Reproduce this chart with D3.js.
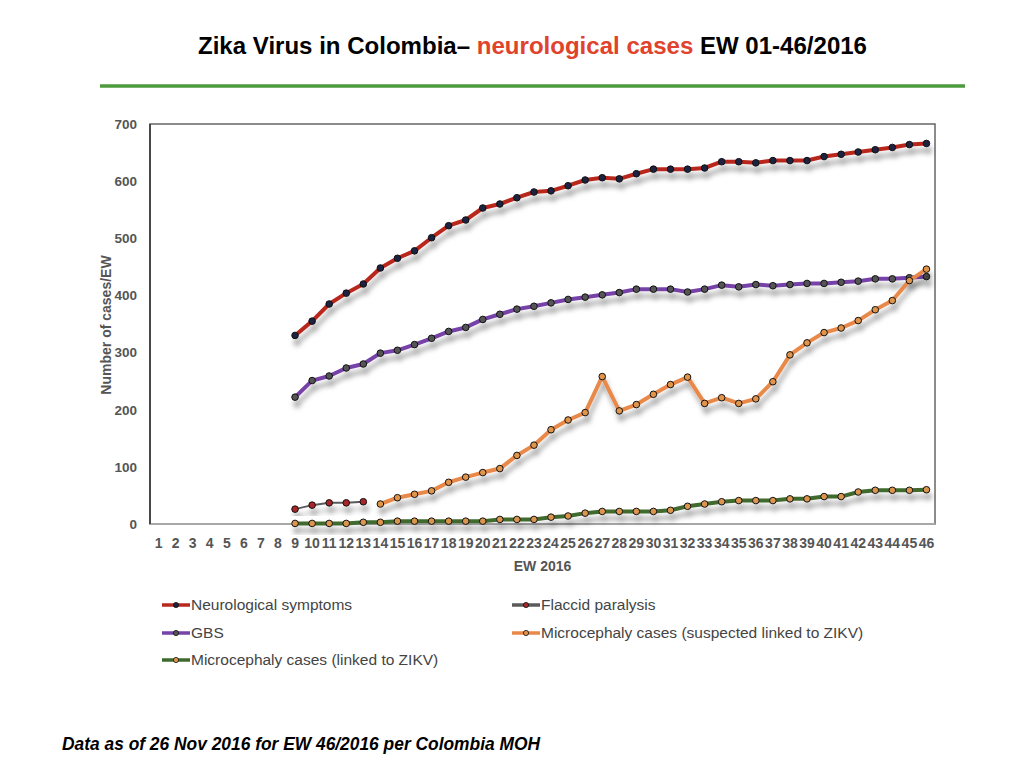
<!DOCTYPE html>
<html>
<head>
<meta charset="utf-8">
<script src="https://cdn.jsdelivr.net/npm/d3@7"></script>
<style>
  body { margin: 0; background: #fff; }
  svg text { font-family: "Liberation Sans", Arial, Helvetica, sans-serif; }
</style>
</head>
<body>
<svg id="chart" width="1024" height="768"></svg>
<script>
// epidemiological weeks 1..46
const weeks = d3.range(1, 47);
const yTicks = [0, 100, 200, 300, 400, 500, 600, 700];

// series values (first week given by *Start)
const neuroStart = 9;
const neuro = [330, 355, 385, 404, 420, 448, 465, 478, 501, 522, 532, 553, 560, 571, 581, 583, 592, 602, 606, 604,
  613, 621, 621, 621, 623, 634, 634, 632, 636, 636, 636, 643, 647, 651, 655, 659, 664, 666];

const flaccidStart = 9;
const flaccid = [26, 33, 37, 37, 39];

const gbsStart = 9;
const gbs = [222, 251, 259, 273, 280, 299, 304, 314, 325, 337, 344, 358, 367, 376, 381, 387, 393, 397, 401, 405,
  411, 411, 411, 406, 411, 418, 415, 419, 417, 419, 421, 421, 423, 425, 429, 429, 431, 433];

const suspectedStart = 14;
const suspected = [35, 46, 52, 58, 73, 82, 90, 97, 120, 138, 165, 182, 195, 258, 198, 209, 227, 244, 257, 211,
  221, 211, 219, 249, 296, 317, 335, 343, 356, 375, 391, 426, 446];

const linkedStart = 9;
const linked = [1, 1, 1, 1, 3, 3, 5, 5, 5, 5, 5, 5, 8, 8, 8, 12, 14, 19, 22, 22,
  22, 22, 24, 31, 35, 39, 41, 41, 41, 44, 44, 48, 48, 56, 59, 59, 59, 60];

const series = [
  { name: 'Neurological symptoms', start: neuroStart, values: neuro, line: '#b8281e', dot: '#1c2340', width: 4 },
  { name: 'Flaccid paralysis', start: flaccidStart, values: flaccid, line: '#5a5a5a', dot: '#a8262a', width: 2 },
  { name: 'GBS', start: gbsStart, values: gbs, line: '#7643a8', dot: '#555555', width: 4 },
  { name: 'Microcephaly cases (suspected linked to ZIKV)', start: suspectedStart, values: suspected, line: '#e8894a', dot: '#e0954c', width: 4 },
  { name: 'Microcephaly cases (linked to ZIKV)', start: linkedStart, values: linked, line: '#3f6a2e', dot: '#dc9550', width: 4 }
];

const svg = d3.select('#chart');
const plot = { left: 150, right: 935, top: 124, bottom: 524 };

// drop shadow under the lines
const defs = svg.append('defs');
defs.append('filter')
    .attr('id', 'shadow')
    .attr('x', '-10%').attr('y', '-10%')
    .attr('width', '120%').attr('height', '130%')
  .append('feDropShadow')
    .attr('dx', 2).attr('dy', 7)
    .attr('stdDeviation', 2.5)
    .attr('flood-color', '#000')
    .attr('flood-opacity', 0.32);

// title
const title = svg.append('text')
    .attr('x', 198).attr('y', 54)
    .attr('textLength', 669)
    .attr('lengthAdjust', 'spacingAndGlyphs')
    .style('font-size', '23px')
    .style('font-weight', 'bold');
title.append('tspan').attr('fill', '#000').text('Zika Virus in Colombia\u2013 ');
title.append('tspan').attr('fill', '#e0422c').text('neurological cases');
title.append('tspan').attr('fill', '#000').text(' EW 01-46/2016');

svg.append('line')
    .attr('x1', 100).attr('x2', 965)
    .attr('y1', 86).attr('y2', 86)
    .attr('stroke', '#4c9a3c')
    .attr('stroke-width', 3.5);

// scales
const x = d3.scaleBand()
    .domain(weeks)
    .range([plot.left, plot.right]);

const y = d3.scaleLinear()
    .domain([0, 700])
    .range([plot.bottom, plot.top]);

const cx = w => x(w) + x.bandwidth() / 2;

// plot frame
svg.append('rect')
    .attr('x', plot.left).attr('y', plot.top)
    .attr('width', plot.right - plot.left)
    .attr('height', plot.bottom - plot.top)
    .attr('fill', 'none')
    .attr('stroke', '#666')
    .attr('stroke-width', 1.5);
svg.append('line')
    .attr('x1', plot.left).attr('x2', plot.right)
    .attr('y1', plot.bottom).attr('y2', plot.bottom)
    .attr('stroke', '#a8a8a8')
    .attr('stroke-width', 2);
svg.append('line')
    .attr('x1', plot.left).attr('x2', plot.left)
    .attr('y1', plot.top).attr('y2', plot.bottom)
    .attr('stroke', '#333')
    .attr('stroke-width', 1.5);

// y axis
const yAxis = svg.append('g')
    .attr('transform', `translate(${plot.left},0)`)
    .call(d3.axisLeft(y).tickValues(yTicks).tickSize(0).tickPadding(13));
yAxis.select('.domain').remove();
yAxis.selectAll('text')
    .attr('fill', '#555')
    .style('font-size', '13.5px')
    .style('font-weight', 'bold');

// x axis
const xAxis = svg.append('g')
    .attr('transform', `translate(0,${plot.bottom})`)
    .call(d3.axisBottom(x).tickSize(0).tickPadding(14));
xAxis.select('.domain').remove();
xAxis.selectAll('text')
    .attr('fill', '#555')
    .style('font-size', '14px')
    .style('font-weight', 'bold');

svg.append('text')
    .attr('x', (plot.left + plot.right) / 2)
    .attr('y', 571)
    .attr('text-anchor', 'middle')
    .attr('fill', '#555')
    .style('font-size', '14px')
    .style('font-weight', 'bold')
    .text('EW 2016');

svg.append('text')
    .attr('transform', 'translate(111,325) rotate(-90)')
    .attr('text-anchor', 'middle')
    .attr('fill', '#555')
    .style('font-size', '14px')
    .style('font-weight', 'bold')
    .text('Number of cases/EW');

// lines and markers
const line = d3.line()
    .x(d => cx(d.week))
    .y(d => y(d.value));

series.forEach(s => {
    const pts = s.values.map((v, i) => ({ week: s.start + i, value: v }));
    const g = svg.append('g').attr('filter', 'url(#shadow)');
    g.append('path')
        .datum(pts)
        .attr('d', line)
        .attr('fill', 'none')
        .attr('stroke', s.line)
        .attr('stroke-width', s.width)
        .attr('stroke-linejoin', 'round');
    g.selectAll('circle')
        .data(pts)
        .enter()
        .append('circle')
        .attr('cx', d => cx(d.week))
        .attr('cy', d => y(d.value))
        .attr('r', 3.3)
        .attr('fill', s.dot)
        .attr('stroke', '#111')
        .attr('stroke-width', 1);
});

// legend
const legendPos = [[162, 605], [512, 605], [162, 633], [512, 633], [162, 660]];
series.forEach((s, i) => {
    const [lx, ly] = legendPos[i];
    const g = svg.append('g').attr('transform', `translate(${lx},${ly})`);
    g.append('line')
        .attr('x1', 0).attr('x2', 28)
        .attr('stroke', s.line)
        .attr('stroke-width', 3.5);
    g.append('circle')
        .attr('cx', 14).attr('r', 2.6)
        .attr('fill', s.dot)
        .attr('stroke', '#111')
        .attr('stroke-width', 0.8);
    g.append('text')
        .attr('x', 29).attr('y', 5)
        .attr('fill', '#444')
        .style('font-size', '15.5px')
        .text(s.name);
});

// footnote
svg.append('text')
    .attr('x', 62).attr('y', 750)
    .attr('textLength', 478)
    .attr('lengthAdjust', 'spacingAndGlyphs')
    .attr('fill', '#000')
    .style('font-size', '18px')
    .style('font-weight', 'bold')
    .style('font-style', 'italic')
    .text('Data as of 26 Nov 2016 for EW 46/2016 per Colombia MOH');
</script>
</body>
</html>
